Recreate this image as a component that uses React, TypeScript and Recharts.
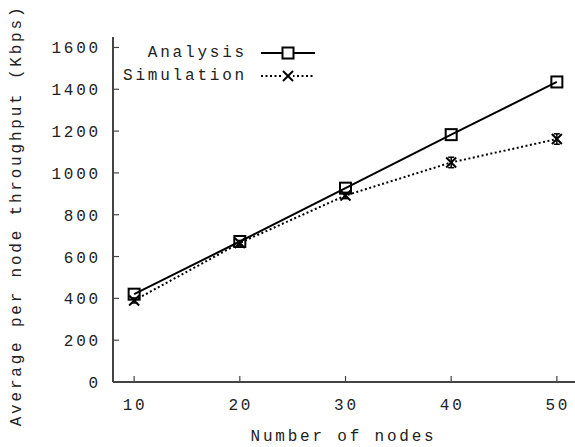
import React from 'react';
import { LineChart, Line, XAxis, YAxis, Legend, ErrorBar, Label } from 'recharts';

const nodes = [10, 20, 30, 40, 50];
const analysis = [420, 672, 927, 1183, 1435];
const simulation = [390, 665, 892, 1050, 1162];
const simulationErr = [12, 12, 15, 25, 25];
const xTicks = [10, 20, 30, 40, 50];
const yTicks = [0, 200, 400, 600, 800, 1000, 1200, 1400, 1600];

const data = nodes.map((n, i) => ({
  n,
  analysis: analysis[i],
  simulation: simulation[i],
  simErr: simulationErr[i],
}));

const FONT = '"Liberation Mono", "DejaVu Sans Mono", monospace';
const TEXT = '#222';
const AXIS = '#444';
const FS = 16;
const LS = 2.8;

const BottomTick = (props: any) => {
  const { x, y, payload } = props;
  return (
    <g>
      <line x1={x} y1={y} x2={x} y2={y - 6} stroke={AXIS} strokeWidth={1.2} />
      <text x={x + 1} y={y + 28} textAnchor="middle" fontFamily={FONT} fontSize={FS} letterSpacing={LS} fill={TEXT}>
        {payload.value}
      </text>
    </g>
  );
};

const TopTick = (props: any) => {
  const { x, y } = props;
  return <line x1={x} y1={y} x2={x} y2={y + 6} stroke={AXIS} strokeWidth={1.2} />;
};

const LeftTick = (props: any) => {
  const { x, y, payload } = props;
  return (
    <g>
      <line x1={x} y1={y} x2={x + 6} y2={y} stroke={AXIS} strokeWidth={1.2} />
      <text x={x - 12} y={y + 6} textAnchor="end" fontFamily={FONT} fontSize={FS} letterSpacing={LS} fill={TEXT}>
        {payload.value}
      </text>
    </g>
  );
};

const RightTick = (props: any) => {
  const { x, y } = props;
  return <line x1={x} y1={y} x2={x - 6} y2={y} stroke={AXIS} strokeWidth={1.2} />;
};

const SquareDot = (props: any) => {
  const { cx, cy } = props;
  if (cx == null || cy == null) return null;
  return <rect x={cx - 5.5} y={cy - 5.5} width={11} height={11} fill="none" stroke="#000" strokeWidth={2} />;
};

const CrossDot = (props: any) => {
  const { cx, cy } = props;
  if (cx == null || cy == null) return null;
  const s = 5;
  return (
    <g stroke="#000" strokeWidth={2}>
      <line x1={cx - s} y1={cy - s} x2={cx + s} y2={cy + s} />
      <line x1={cx - s} y1={cy + s} x2={cx + s} y2={cy - s} />
    </g>
  );
};

const LegendContent = () => {
  const row = (label: string, dash: string | undefined, marker: 'square' | 'cross') => (
    <div style={{ display: 'flex', alignItems: 'center', height: 23, justifyContent: 'flex-end' }}>
      <span style={{ fontFamily: FONT, fontSize: FS, letterSpacing: LS, color: TEXT, marginRight: 14, whiteSpace: 'nowrap' }}>{label}</span>
      <svg width={54} height={16} style={{ display: 'block' }}>
        <line x1={0} y1={8} x2={54} y2={8} stroke="#000" strokeWidth={2} strokeDasharray={dash} />
        {marker === 'square' ? (
          <rect x={21.5} y={2.5} width={11} height={11} fill="#fff" stroke="#000" strokeWidth={2} />
        ) : (
          <g stroke="#000" strokeWidth={2}>
            <rect x={22} y={3} width={10} height={10} fill="#fff" stroke="none" />
            <line x1={22} y1={3} x2={32} y2={13} />
            <line x1={22} y1={13} x2={32} y2={3} />
          </g>
        )}
      </svg>
    </div>
  );
  return (
    <div style={{ width: 200 }}>
      {row('Analysis', undefined, 'square')}
      {row('Simulation', '2 2.5', 'cross')}
    </div>
  );
};

export default function App() {
  return (
    <div style={{ position: 'absolute', left: 0, top: 0, width: 575, height: 447, overflow: 'hidden', background: '#fff' }}>
      <LineChart width={580} height={447} data={data} margin={{ top: 37, right: 2, bottom: 35, left: 13 }}>
        <XAxis
          dataKey="n"
          type="number"
          domain={[8, 52]}
          ticks={xTicks}
          height={30}
          tickSize={0}
          tickMargin={0}
          tick={<BottomTick />}
          tickLine={false}
          axisLine={{ stroke: AXIS, strokeWidth: 2 }}
        >
          <Label
            content={(p: any) => {
              const vb = p.viewBox;
              return (
                <text x={vb.x + vb.width / 2 - 2} y={vb.y + 59} textAnchor="middle" fontFamily={FONT} fontSize={FS} letterSpacing={LS} fill={TEXT}>
                  Number of nodes
                </text>
              );
            }}
          />
        </XAxis>
        <XAxis
          xAxisId="top"
          dataKey="n"
          type="number"
          orientation="top"
          domain={[8, 52]}
          ticks={xTicks}
          height={0}
          tickSize={0}
          tickMargin={0}
          tick={<TopTick />}
          tickLine={false}
          axisLine={{ stroke: AXIS, strokeWidth: 2 }}
        />
        <YAxis
          yAxisId="left"
          type="number"
          domain={[0, 1650]}
          ticks={yTicks}
          width={100}
          tickSize={0}
          tickMargin={0}
          tick={<LeftTick />}
          tickLine={false}
          axisLine={{ stroke: AXIS, strokeWidth: 2 }}
        >
          <Label
            content={(p: any) => {
              const vb = p.viewBox;
              const cx = vb.x + 4;
              const cy = vb.y + vb.height / 2 + 6;
              return (
                <text x={cx} y={cy} transform={`rotate(-90 ${cx} ${cy})`} textAnchor="middle" dominantBaseline="central" fontFamily={FONT} fontSize={FS} letterSpacing={LS} fill={TEXT}>
                  Average per node throughput (Kbps)
                </text>
              );
            }}
          />
        </YAxis>
        <YAxis
          yAxisId="right"
          orientation="right"
          type="number"
          domain={[0, 1650]}
          ticks={yTicks}
          width={0}
          tickSize={0}
          tickMargin={0}
          tick={<RightTick />}
          tickLine={false}
          axisLine={{ stroke: AXIS, strokeWidth: 2 }}
        />
        <Legend
          content={<LegendContent />}
          layout="vertical"
          verticalAlign="middle"
          align="center"
          wrapperStyle={{ position: 'absolute', top: 41, left: 115, width: 200, margin: 0 }}
        />
        <Line
          yAxisId="left"
          dataKey="simulation"
          stroke="#000"
          strokeWidth={2}
          strokeDasharray="2 2.5"
          dot={<CrossDot />}
          activeDot={false}
          isAnimationActive={false}
        >
          <ErrorBar dataKey="simErr" direction="y" width={3} stroke="#000" strokeWidth={1.5} isAnimationActive={false} />
        </Line>
        <Line
          yAxisId="left"
          dataKey="analysis"
          stroke="#000"
          strokeWidth={2}
          dot={<SquareDot />}
          activeDot={false}
          isAnimationActive={false}
        />
      </LineChart>
    </div>
  );
}
